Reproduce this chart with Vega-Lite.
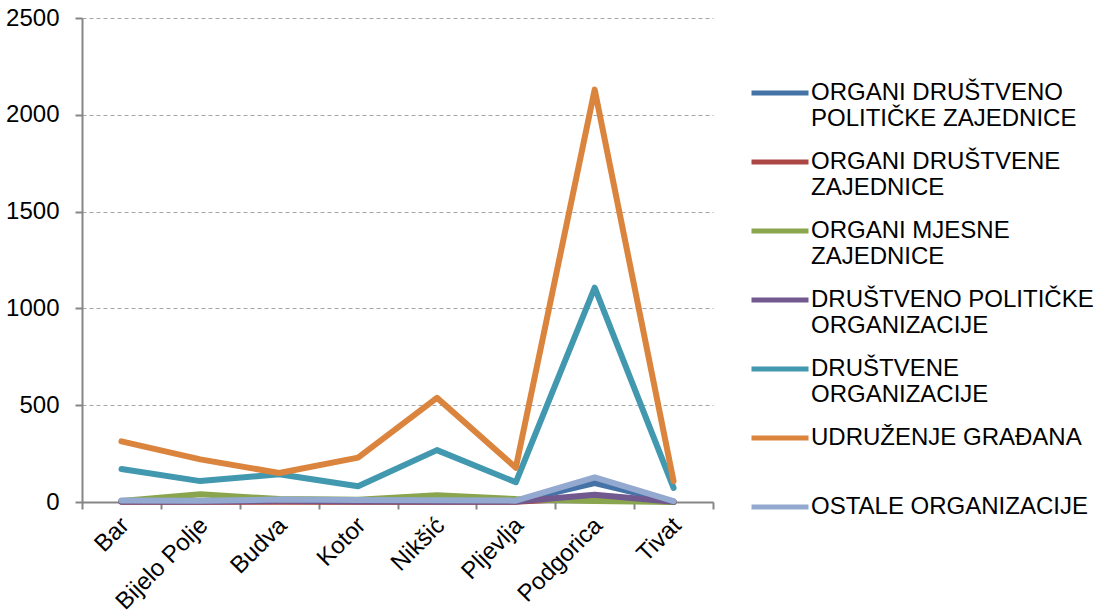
{
  "$schema": "https://vega.github.io/schema/vega-lite/v6.json",
  "width": 631,
  "height": 484,
  "autosize": "none",
  "padding": {"left": 82, "top": 18, "right": 383, "bottom": 114},
  "background": "white",
  "config": {
    "font": "Liberation Sans",
    "view": {"stroke": null},
    "axis": {"labelFont": "Liberation Sans", "labelColor": "#000000", "labelFontSize": 24, "domainColor": "#868686", "tickColor": "#868686", "domainWidth": 2, "tickWidth": 2, "tickSize": 7}
  },
  "data": {
    "values": [
      {"grad": "Bar", "vrsta": "ORGANI DRUŠTVENO POLITIČKE ZAJEDNICE", "broj": 3},
      {"grad": "Bijelo Polje", "vrsta": "ORGANI DRUŠTVENO POLITIČKE ZAJEDNICE", "broj": 2},
      {"grad": "Budva", "vrsta": "ORGANI DRUŠTVENO POLITIČKE ZAJEDNICE", "broj": 5},
      {"grad": "Kotor", "vrsta": "ORGANI DRUŠTVENO POLITIČKE ZAJEDNICE", "broj": 3},
      {"grad": "Nikšić", "vrsta": "ORGANI DRUŠTVENO POLITIČKE ZAJEDNICE", "broj": 3},
      {"grad": "Pljevlja", "vrsta": "ORGANI DRUŠTVENO POLITIČKE ZAJEDNICE", "broj": 2},
      {"grad": "Podgorica", "vrsta": "ORGANI DRUŠTVENO POLITIČKE ZAJEDNICE", "broj": 98},
      {"grad": "Tivat", "vrsta": "ORGANI DRUŠTVENO POLITIČKE ZAJEDNICE", "broj": 1},
      {"grad": "Bar", "vrsta": "ORGANI DRUŠTVENE ZAJEDNICE", "broj": 1},
      {"grad": "Bijelo Polje", "vrsta": "ORGANI DRUŠTVENE ZAJEDNICE", "broj": 1},
      {"grad": "Budva", "vrsta": "ORGANI DRUŠTVENE ZAJEDNICE", "broj": 1},
      {"grad": "Kotor", "vrsta": "ORGANI DRUŠTVENE ZAJEDNICE", "broj": 1},
      {"grad": "Nikšić", "vrsta": "ORGANI DRUŠTVENE ZAJEDNICE", "broj": 1},
      {"grad": "Pljevlja", "vrsta": "ORGANI DRUŠTVENE ZAJEDNICE", "broj": 1},
      {"grad": "Podgorica", "vrsta": "ORGANI DRUŠTVENE ZAJEDNICE", "broj": 25},
      {"grad": "Tivat", "vrsta": "ORGANI DRUŠTVENE ZAJEDNICE", "broj": 0},
      {"grad": "Bar", "vrsta": "ORGANI MJESNE ZAJEDNICE", "broj": 5},
      {"grad": "Bijelo Polje", "vrsta": "ORGANI MJESNE ZAJEDNICE", "broj": 40},
      {"grad": "Budva", "vrsta": "ORGANI MJESNE ZAJEDNICE", "broj": 15},
      {"grad": "Kotor", "vrsta": "ORGANI MJESNE ZAJEDNICE", "broj": 12},
      {"grad": "Nikšić", "vrsta": "ORGANI MJESNE ZAJEDNICE", "broj": 35},
      {"grad": "Pljevlja", "vrsta": "ORGANI MJESNE ZAJEDNICE", "broj": 15},
      {"grad": "Podgorica", "vrsta": "ORGANI MJESNE ZAJEDNICE", "broj": 5},
      {"grad": "Tivat", "vrsta": "ORGANI MJESNE ZAJEDNICE", "broj": 0},
      {"grad": "Bar", "vrsta": "DRUŠTVENO POLITIČKE ORGANIZACIJE", "broj": 2},
      {"grad": "Bijelo Polje", "vrsta": "DRUŠTVENO POLITIČKE ORGANIZACIJE", "broj": 3},
      {"grad": "Budva", "vrsta": "DRUŠTVENO POLITIČKE ORGANIZACIJE", "broj": 6},
      {"grad": "Kotor", "vrsta": "DRUŠTVENO POLITIČKE ORGANIZACIJE", "broj": 4},
      {"grad": "Nikšić", "vrsta": "DRUŠTVENO POLITIČKE ORGANIZACIJE", "broj": 3},
      {"grad": "Pljevlja", "vrsta": "DRUŠTVENO POLITIČKE ORGANIZACIJE", "broj": 2},
      {"grad": "Podgorica", "vrsta": "DRUŠTVENO POLITIČKE ORGANIZACIJE", "broj": 38},
      {"grad": "Tivat", "vrsta": "DRUŠTVENO POLITIČKE ORGANIZACIJE", "broj": 1},
      {"grad": "Bar", "vrsta": "DRUŠTVENE ORGANIZACIJE", "broj": 170},
      {"grad": "Bijelo Polje", "vrsta": "DRUŠTVENE ORGANIZACIJE", "broj": 108},
      {"grad": "Budva", "vrsta": "DRUŠTVENE ORGANIZACIJE", "broj": 143},
      {"grad": "Kotor", "vrsta": "DRUŠTVENE ORGANIZACIJE", "broj": 81},
      {"grad": "Nikšić", "vrsta": "DRUŠTVENE ORGANIZACIJE", "broj": 268},
      {"grad": "Pljevlja", "vrsta": "DRUŠTVENE ORGANIZACIJE", "broj": 102},
      {"grad": "Podgorica", "vrsta": "DRUŠTVENE ORGANIZACIJE", "broj": 1107},
      {"grad": "Tivat", "vrsta": "DRUŠTVENE ORGANIZACIJE", "broj": 73},
      {"grad": "Bar", "vrsta": "UDRUŽENJE GRAĐANA", "broj": 313},
      {"grad": "Bijelo Polje", "vrsta": "UDRUŽENJE GRAĐANA", "broj": 220},
      {"grad": "Budva", "vrsta": "UDRUŽENJE GRAĐANA", "broj": 150},
      {"grad": "Kotor", "vrsta": "UDRUŽENJE GRAĐANA", "broj": 229},
      {"grad": "Nikšić", "vrsta": "UDRUŽENJE GRAĐANA", "broj": 538},
      {"grad": "Pljevlja", "vrsta": "UDRUŽENJE GRAĐANA", "broj": 177},
      {"grad": "Podgorica", "vrsta": "UDRUŽENJE GRAĐANA", "broj": 2130},
      {"grad": "Tivat", "vrsta": "UDRUŽENJE GRAĐANA", "broj": 108},
      {"grad": "Bar", "vrsta": "OSTALE ORGANIZACIJE", "broj": 8},
      {"grad": "Bijelo Polje", "vrsta": "OSTALE ORGANIZACIJE", "broj": 6},
      {"grad": "Budva", "vrsta": "OSTALE ORGANIZACIJE", "broj": 13},
      {"grad": "Kotor", "vrsta": "OSTALE ORGANIZACIJE", "broj": 10},
      {"grad": "Nikšić", "vrsta": "OSTALE ORGANIZACIJE", "broj": 9},
      {"grad": "Pljevlja", "vrsta": "OSTALE ORGANIZACIJE", "broj": 7},
      {"grad": "Podgorica", "vrsta": "OSTALE ORGANIZACIJE", "broj": 127},
      {"grad": "Tivat", "vrsta": "OSTALE ORGANIZACIJE", "broj": 5}
    ]
  },
  "mark": {"type": "line", "strokeWidth": 6, "strokeCap": "round", "strokeJoin": "round"},
  "encoding": {
    "x": {
      "field": "grad", "type": "nominal", "sort": null,
      "scale": {"type": "band", "paddingInner": 0, "paddingOuter": 0},
      "axis": {"title": null, "labelAngle": -45, "labelFontSize": 24, "tickBand": "extent", "grid": false, "labelPadding": 4, "labelOffset": -5}
    },
    "y": {
      "field": "broj", "type": "quantitative",
      "scale": {"domain": [0, 2500], "nice": false},
      "axis": {"title": null, "format": "d", "labelFontSize": 24, "values": [0, 500, 1000, 1500, 2000, 2500], "grid": true, "gridDash": [4, 3], "gridColor": "#a6a6a6", "gridWidth": 1, "labelPadding": 16}
    },
    "color": {
      "field": "vrsta", "type": "nominal", "sort": null,
      "scale": {
        "domain": ["ORGANI DRUŠTVENO POLITIČKE ZAJEDNICE", "ORGANI DRUŠTVENE ZAJEDNICE", "ORGANI MJESNE ZAJEDNICE", "DRUŠTVENO POLITIČKE ORGANIZACIJE", "DRUŠTVENE ORGANIZACIJE", "UDRUŽENJE GRAĐANA", "OSTALE ORGANIZACIJE"],
        "range": ["#4572A7", "#AA4643", "#89A54E", "#71588F", "#4198AF", "#DB843D", "#93A9CF"]
      },
      "legend": {
        "title": null,
        "orient": "none",
        "legendX": 667,
        "legendY": 44,
        "symbolType": "stroke",
        "symbolSize": 3249,
        "symbolStrokeWidth": 5,
        "labelFont": "Liberation Sans",
        "labelFontSize": 24,
        "labelColor": "#000000",
        "labelOffset": 0,
        "labelLimit": 400,
        "labelBaseline": "middle",
        "rowPadding": 0,
        "labelExpr": "datum.label == 'ORGANI DRUŠTVENO POLITIČKE ZAJEDNICE' ? ['ORGANI DRUŠTVENO', 'POLITIČKE ZAJEDNICE'] : datum.label == 'ORGANI DRUŠTVENE ZAJEDNICE' ? ['ORGANI DRUŠTVENE', 'ZAJEDNICE'] : datum.label == 'ORGANI MJESNE ZAJEDNICE' ? ['ORGANI MJESNE', 'ZAJEDNICE'] : datum.label == 'DRUŠTVENO POLITIČKE ORGANIZACIJE' ? ['DRUŠTVENO POLITIČKE', 'ORGANIZACIJE'] : datum.label == 'DRUŠTVENE ORGANIZACIJE' ? ['DRUŠTVENE', 'ORGANIZACIJE'] : [datum.label, '']"
      }
    }
  }
}
